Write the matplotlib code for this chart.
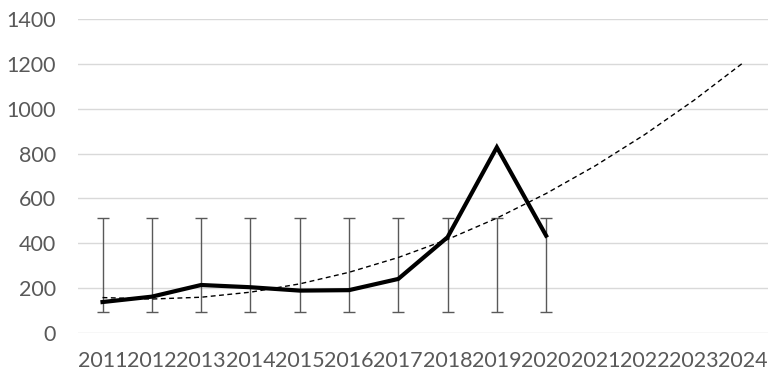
import numpy as np
import matplotlib
matplotlib.use('Agg')
from matplotlib import pyplot as plt

# 数据
years = ['2011', '2012', '2013', '2014', '2015', '2016', '2017',
         '2018', '2019', '2020', '2021', '2022', '2023', '2024']
values = [138, 162, 214, 204, 189, 191, 241, 427, 828, 434]

plt.rcParams['font.family'] = ['Lato', 'DejaVu Sans']

fig = plt.figure(figsize=(7.71, 3.76), dpi=100)
ax = fig.add_axes([0.101, 0.1144, 0.895, 0.835])

x = np.arange(len(values))
xall = np.arange(len(years))

# 误差线: 以均值为中心, 标准差 (Excel 默认方式)
mean = np.mean(values)
sd = np.std(values, ddof=1)
ax.errorbar(x, [mean] * len(x), yerr=sd, fmt='none', ecolor='#595959',
            elinewidth=1.0, capsize=4.5, capthick=1.0, zorder=3)

# 折线
ax.plot(x, values, color='black', linewidth=3, solid_joinstyle='miter', zorder=4)

# 二次多项式趋势线, 向前预测 4 期
coef = np.polyfit(x + 1, values, 2)
ax.plot(xall, np.polyval(coef, xall + 1), color='black', linewidth=1,
        dashes=(3.5, 2.5), zorder=5)

ax.set_xlim(-0.5, len(years) - 0.5)
ax.set_ylim(0, 1400)
ax.set_yticks(range(0, 1401, 200))
ax.set_xticks(xall)
ax.set_xticklabels(years)
ax.grid(axis='y', color='#d9d9d9', linewidth=1.0)
ax.set_axisbelow(True)
for s in ax.spines.values():
    s.set_visible(False)
ax.tick_params(axis='both', length=0, labelsize=15.5, labelcolor='#595959')
ax.tick_params(axis='y', pad=16)
ax.tick_params(axis='x', pad=13)

plt.savefig('out.png', dpi=100)
